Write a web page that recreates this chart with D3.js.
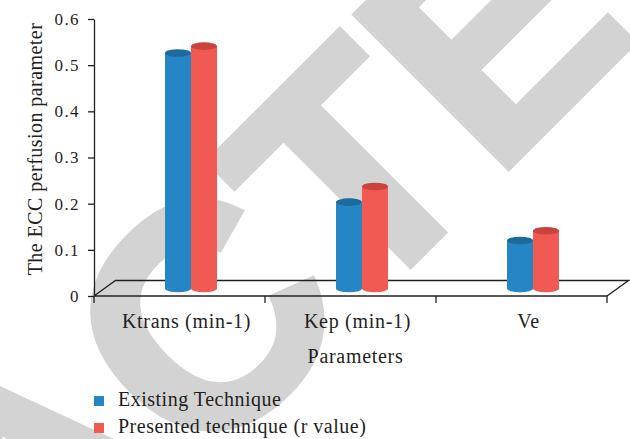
<!DOCTYPE html>
<html lang="en">
<head>
	<meta charset="UTF-8">
	<title>ECC perfusion parameter</title>
	<script src="https://cdn.jsdelivr.net/npm/d3@7"></script>
	<style type="text/css">
		body { margin: 0; background: #fff; }
		text { font-family: "Liberation Serif", "Times New Roman", serif; fill: #231f20; }
		.axis path, .axis line { stroke: #231f20; stroke-width: 1.3; }
	</style>
</head>
<body>
	<script type="text/javascript">

		// values
		const categories = ["Ktrans (min-1)", "Kep (min-1)", "Ve"];
		const existing = [0.51, 0.187, 0.104];
		const presented = [0.525, 0.221, 0.125];
		const seriesNames = ["Existing Technique", "Presented technique (r value)"];
		const yTicks = [0, 0.1, 0.2, 0.3, 0.4, 0.5, 0.6];

		const colors = ["#2585c5", "#f15a53"];
		const topColors = ["#1d6a9c", "#c9433f"];

		const width = 630, height = 439;
		const svg = d3.select("body").append("svg")
		    .attr("width", width)
		    .attr("height", height);

		// watermark behind the chart
		svg.append("text")
		    .attr("transform", "translate(-560,1235) rotate(-45)")
		    .style("font-family", "'Liberation Sans', Arial, sans-serif")
		    .style("font-weight", "bold")
		    .style("font-size", "312px")
		    .style("fill", "#d3d3d3")
		    .style("stroke", "#d3d3d3")
		    .style("stroke-width", 8)
		    .text("RETRACTED");

		const y = d3.scaleLinear().domain([0, 0.6]).range([296, 19]);
		const x = d3.scaleBand().domain(categories).range([94, 607]);

		// depth of the 3D floor, bars sit half way back
		const depth = {x: 21.5, y: -15.5};
		const barShift = {x: 11.5, y: -7.5};
		const barW = 26, ry = 3.8;

		// floor
		const x0 = x.range()[0], x1 = x.range()[1], y0 = y(0);
		svg.append("path")
		    .attr("d", `M${x0},${y0} L${x0 + depth.x},${y0 + depth.y} L${x1 + depth.x},${y0 + depth.y} L${x1},${y0}`)
		    .style("fill", "none")
		    .style("stroke", "#231f20")
		    .style("stroke-width", 1.3);

		// y axis
		const yAxis = svg.append("g")
		    .attr("class", "axis")
		    .attr("transform", `translate(${x0},0)`)
		    .call(d3.axisLeft(y)
		        .tickValues(yTicks)
		        .tickSize(6)
		        .tickSizeOuter(0)
		        .tickPadding(8)
		        .tickFormat(d => d === 0 ? "0" : d.toFixed(1)));
		yAxis.selectAll("text")
		    .style("font-size", "17px")
		    .style("letter-spacing", "1.4px");

		// x axis: front edge, ticks at band edges, labels
		svg.append("line")
		    .attr("x1", x0).attr("x2", x1)
		    .attr("y1", y0).attr("y2", y0)
		    .style("stroke", "#231f20")
		    .style("stroke-width", 1.3);

		const edges = categories.map(c => x(c)).concat([x1]);
		svg.selectAll(".xtick")
		    .data(edges).enter()
		    .append("line")
		    .attr("class", "xtick")
		    .attr("x1", d => d).attr("x2", d => d)
		    .attr("y1", y0).attr("y2", y0 + 7)
		    .style("stroke", "#231f20")
		    .style("stroke-width", 1.3);

		svg.selectAll(".xlabel")
		    .data(categories).enter()
		    .append("text")
		    .attr("class", "xlabel")
		    .attr("x", d => x(d) + x.bandwidth() / 2 + 7)
		    .attr("y", 328)
		    .attr("text-anchor", "middle")
		    .style("font-size", "20px")
		    .style("letter-spacing", "0.7px")
		    .text(d => d);

		// axis titles
		svg.append("text")
		    .attr("x", (x0 + x1) / 2 + 5)
		    .attr("y", 363)
		    .attr("text-anchor", "middle")
		    .style("font-size", "20px")
		    .style("letter-spacing", "0.7px")
		    .text("Parameters");

		svg.append("text")
		    .attr("transform", "translate(42,149) rotate(-90)")
		    .attr("text-anchor", "middle")
		    .style("font-size", "20px")
		    .style("letter-spacing", "0.45px")
		    .text("The ECC perfusion parameter");

		// cylinders
		const bars = [];
		categories.forEach((c, i) => {
		    [existing[i], presented[i]].forEach((v, s) => {
		        bars.push({cat: c, value: v, s: s});
		    });
		});

		const cyl = svg.append("g")
		    .attr("transform", `translate(${barShift.x},${barShift.y})`)
		    .selectAll("g")
		    .data(bars).enter()
		    .append("g");

		const left = d => x(d.cat) + x.bandwidth() / 2 - barW + d.s * barW;

		cyl.append("path")
		    .attr("d", d => {
		        const l = left(d), r = l + barW, top = y(d.value), bot = y(0);
		        return `M${l},${top} L${l},${bot} A${barW / 2},${ry} 0 0 0 ${r},${bot} L${r},${top} Z`;
		    })
		    .style("fill", d => colors[d.s]);

		cyl.append("ellipse")
		    .attr("cx", d => left(d) + barW / 2)
		    .attr("cy", d => y(d.value))
		    .attr("rx", barW / 2)
		    .attr("ry", ry)
		    .style("fill", d => topColors[d.s]);

		// legend
		const legend = svg.append("g")
		    .selectAll("g")
		    .data(seriesNames).enter()
		    .append("g")
		    .attr("transform", (d, i) => `translate(94,${396 + i * 27})`);

		legend.append("rect")
		    .attr("width", 10)
		    .attr("height", 10)
		    .style("fill", (d, i) => colors[i]);

		legend.append("text")
		    .attr("x", 24)
		    .attr("y", 10)
		    .style("font-size", "20px")
		    .style("letter-spacing", "0.5px")
		    .text(d => d);

	</script>
</body>
</html>
